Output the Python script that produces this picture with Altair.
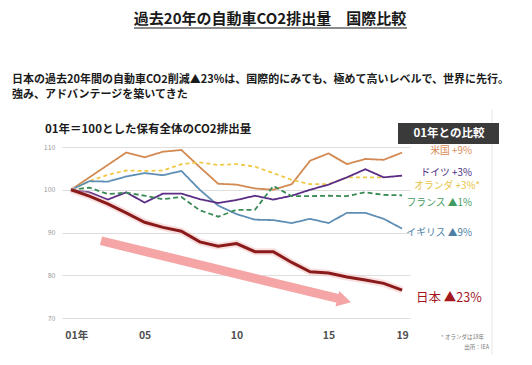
import altair as alt
import pandas as pd

# ---------------- data ----------------
years = list(range(2001, 2020))
us = [100, 102.9, 105.8, 108.7, 107.6, 108.9, 109.3, 105.3, 101.4, 101.2,
      100.3, 100.0, 101.3, 106.8, 108.5, 106.0, 107.2, 107.0, 108.7]
nl = [100, 102.0, 103.5, 104.5, 104.4, 104.5, 106.0, 106.4, 105.8, 106.0,
      105.4, 103.9, 102.3, 101.3, 101.3, 102.9, 102.9, 102.9]  # to 2018
uk = [100, 102.0, 101.9, 103.1, 103.9, 103.4, 104.4, 100.0, 96.3, 94.3,
      93.0, 92.9, 92.2, 93.2, 92.2, 94.6, 94.6, 93.2, 90.9]
de = [100, 99.4, 97.7, 99.4, 97.0, 99.1, 99.1, 97.8, 96.9, 97.6,
      98.6, 97.7, 98.6, 100.0, 101.2, 102.9, 104.8, 102.9, 103.3]
fr = [100, 100.5, 99.0, 99.3, 98.6, 97.8, 98.3, 95.2, 93.7, 95.3,
      95.3, 100.9, 98.5, 98.5, 98.6, 98.5, 99.4, 98.8, 98.7]
jp = [100, 98.5, 96.7, 94.6, 92.4, 91.2, 90.3, 87.8, 86.8, 87.4,
      85.5, 85.5, 83.0, 80.8, 80.5, 79.6, 78.9, 78.1, 76.5]

series_names = ["米国", "オランダ", "イギリス", "ドイツ", "フランス"]
series_colors = ["#d38a52", "#f0c948", "#5f8fb5", "#5b2d86", "#3a8a56"]
series_dash = [[1, 0], [4, 3], [1, 0], [1, 0], [5, 3]]

x_ticks = [2001, 2005, 2010, 2015, 2019]
y_ticks = [70, 80, 90, 100, 110]

arrow_x = [2002.63, 2015.67]
arrow_y = [88.07, 74.4]
arrow_head_x = [2015.85]
arrow_head_y = [74.1]

labels = ["米国 +9%", "ドイツ +3%", "オランダ +3%*", "フランス ▲1%", "イギリス ▲9%"]
label_colors = ["#d88c58", "#4b2e83", "#e6c440", "#3f9b5f", "#4e7fa6"]

rows = []
for name, vals in zip(series_names, [us, nl, uk, de, fr]):
    for yr, v in zip(years, vals):
        rows.append({"year": yr, "value": v, "country": name})
df = pd.DataFrame(rows)
jp_df = pd.DataFrame({"year": years, "value": jp})
arrow_df = pd.DataFrame({"year": arrow_x, "value": arrow_y})
head_df = pd.DataFrame({"year": arrow_head_x, "value": arrow_head_y})

FONT = "Noto Sans CJK JP"

x_enc = alt.X("year:Q",
              scale=alt.Scale(domain=[2000.51, 2019.43], nice=False, zero=False),
              axis=alt.Axis(values=x_ticks, title=None, grid=False, domain=False,
                            ticks=False, labelExpr="substring(toString(datum.value), 2)",
                            labelFontSize=10.5, labelFontWeight="bold",
                            labelColor="#505050", labelPadding=12, labelFont=FONT))
y_enc = alt.Y("value:Q",
              scale=alt.Scale(domain=[70, 110], nice=False, zero=False),
              axis=alt.Axis(values=y_ticks, title=None, grid=True, gridColor="#dedede",
                            domain=False, ticks=False, labelFontSize=7,
                            labelColor="#999999", labelPadding=7, labelFont=FONT))

lines = alt.Chart(df).mark_line(strokeWidth=1.8).encode(
    x=x_enc, y=y_enc,
    color=alt.Color("country:N", scale=alt.Scale(domain=series_names, range=series_colors), legend=None),
    strokeDash=alt.StrokeDash("country:N", scale=alt.Scale(domain=series_names, range=series_dash), legend=None),
    detail="country:N",
)

arrow = alt.Chart(arrow_df).mark_line(strokeWidth=9, color="#f5a5a5", strokeCap="butt").encode(x=x_enc, y=y_enc)
head = alt.Chart(head_df).mark_point(shape="triangle-right", angle=14, size=260, filled=True,
                                     color="#f5a5a5", opacity=1).encode(x=x_enc, y=y_enc)

jp_glow = alt.Chart(jp_df).mark_line(strokeWidth=7, color="#f2c2c2", opacity=0.5).encode(x=x_enc, y=y_enc)
jp_line = alt.Chart(jp_df).mark_line(strokeWidth=3, color="#8b1a1a").encode(x=x_enc, y=y_enc)

dummy = pd.DataFrame({"a": [0]})


def txt(t, x, y, size, color="#222222", weight="normal", align="left", baseline="middle"):
    return alt.Chart(dummy).mark_text(text=t, font=FONT, fontSize=size, color=color,
                                      fontWeight=weight, align=align, baseline=baseline).encode(
        x=alt.value(x), y=alt.value(y))


annots = [
    txt("過去20年の自動車CO2排出量\u3000国際比較", 208, -128, 15, "#1a1a1a", "bold", "center"),
    alt.Chart(dummy).mark_rule(color="#1a1a1a", strokeWidth=1.2).encode(
        x=alt.value(72), x2=alt.value(345), y=alt.value(-119)),
    txt("日本の過去20年間の自動車CO2削減▲23%は、国際的にみても、極めて高いレベルで、世界に先行。",
        -50, -67, 11, "#1a1a1a", "bold"),
    txt("強み、アドバンテージを築いてきた", -50, -52, 11, "#1a1a1a", "bold"),
    txt("01年＝100とした保有全体のCO2排出量", -17, -17, 11.5, "#1a1a1a", "bold"),
    alt.Chart(dummy).mark_rule(color="#e6e6e6", strokeWidth=1).encode(
        x=alt.value(430), y=alt.value(-37), y2=alt.value(208)),
    alt.Chart(dummy).mark_rect(color="#3a3a3a").encode(
        x=alt.value(336), x2=alt.value(437), y=alt.value(-24), y2=alt.value(-3)),
    txt("01年との比較", 387, -13.5, 11.5, "#ffffff", "bold", "center"),
    txt("日本 ▲23%", 354, 151, 12.5, "#a3181f", "normal"),
    txt("年", 21, 189, 10.5, "#505050", "bold", "center"),
    txt("* オランダは18年", 422, 190, 5.5, "#777777", "normal", "right"),
    txt("出所：IEA", 427, 200, 5.5, "#777777", "normal", "right"),
]
label_pos = [(410, 4), (410, 26), (418, 39), (410, 56), (410, 86)]
for t, c, (lx, ly) in zip(labels, label_colors, label_pos):
    annots.append(txt(t, lx, ly, 9.8, c, "normal", "right"))

chart = alt.layer(lines, arrow, head, jp_glow, jp_line, *annots).properties(
    width=348, height=171,
    autosize=alt.AutoSizeParams(type="none"),
    padding={"left": 54, "top": 139, "right": 114, "bottom": 39},
    background="white",
).configure_view(stroke=None)

chart.save("out.html", embed_options={"renderer": "svg", "actions": False})
